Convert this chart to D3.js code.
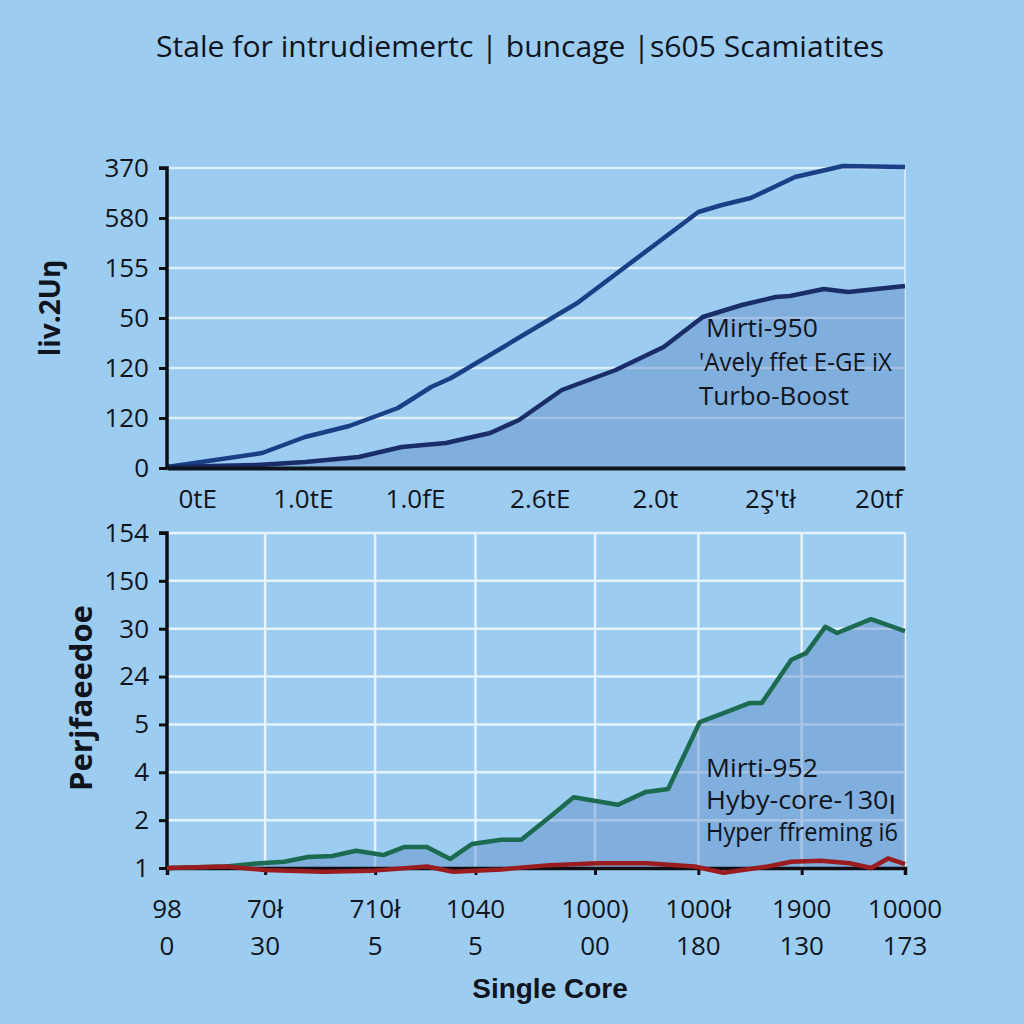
<!DOCTYPE html>
<html><head><meta charset="utf-8">
<script src="https://cdn.jsdelivr.net/npm/d3@7"></script>
<style>body{margin:0;background:#9dccf1;}svg{display:block}</style>
</head><body><svg id="c" width="1024" height="1024"></svg>
<script>
// ---------- data ----------
const titleText = "Stale for intrudiemertc | buncage |s605 Scamiatites";

// top panel
const topYLabels = ["0", "120", "120", "50", "155", "580", "370"];
const topXTickPos = [4.1, 18.4, 33.6, 50.5, 66.1, 81.7, 96.4];
const topXLabels = ["0tE", "1.0tE", "1.0fE", "2.6tE", "2.0t", "2Ş'tł", "20tf"];
const topYTitle = "liv.2Uŋ";
const upperX = [0, 12.9, 18.7, 24.7, 31.3, 35.8, 38.5, 55.6, 72.0, 75.2, 79.1, 85.1, 91.6, 100];
const upperY = [0.02, 0.3, 0.62, 0.84, 1.2, 1.62, 1.8, 3.3, 5.12, 5.26, 5.4, 5.82, 6.04, 6.02];
const lowerX = [0, 12.2, 18.7, 26.0, 31.8, 37.8, 43.8, 47.7, 53.5, 60.8, 67.3, 72.6, 77.9, 82.5, 84.4, 89.0, 92.3, 100];
const lowerY = [0.02, 0.06, 0.12, 0.22, 0.42, 0.5, 0.7, 0.96, 1.56, 1.96, 2.42, 3.02, 3.26, 3.42, 3.44, 3.58, 3.52, 3.64];
const topNote = ["Mirti-950", "'Avely ffet E-GE iX", "Turbo-Boost"];

// bottom panel
const botYLabels = ["1", "2", "4", "5", "24", "30", "150", "154"];
const botXTickPos = [0, 13.3, 28.2, 41.8, 58.0, 72.0, 86.0, 100];
const botXLabels1 = ["98", "70ł", "710ł", "1040", "1000)", "1000ł", "1900", "10000"];
const botXLabels2 = ["0", "30", "5", "5", "00", "180", "130", "173"];
const botYTitle = "Perjfaeedoe";
const botXTitle = "Single Core";
const greenX = [0, 8.0, 12.6, 15.9, 19.1, 22.4, 25.6, 29.3, 32.2, 35.2, 38.4, 41.3, 45.3, 48.0, 51.9, 55.1, 61.1, 64.9, 67.9, 72.2, 75.5, 79.0, 80.6, 84.6, 86.6, 89.2, 90.8, 95.4, 100];
const greenY = [0, 0.03, 0.10, 0.13, 0.23, 0.25, 0.36, 0.27, 0.44, 0.44, 0.19, 0.50, 0.59, 0.59, 1.07, 1.48, 1.32, 1.59, 1.65, 3.05, 3.24, 3.45, 3.45, 4.35, 4.49, 5.04, 4.91, 5.20, 4.95];
const redX = [0, 8.0, 13.2, 21.1, 27.6, 35.2, 38.8, 45.3, 51.9, 58.4, 65.0, 71.5, 75.4, 81.4, 84.6, 88.6, 92.5, 95.4, 97.7, 100];
const redY = [0, 0.03, -0.04, -0.08, -0.06, 0.03, -0.08, -0.03, 0.06, 0.10, 0.10, 0.03, -0.10, 0.03, 0.13, 0.15, 0.10, 0, 0.2, 0.08];
const botNote = ["Mirti-952", "Hyby-core-130ꞁ", "Hyper ffreming i6"];

// ---------- drawing ----------
const svg = d3.select("#c");
const FONT = "'Open Sans', 'DejaVu Sans', sans-serif";
const TXT = "#10141c";

svg.append("rect").attr("width", 1024).attr("height", 1024).attr("fill", "#9dccf1");

svg.append("text").attr("x", 520).attr("y", 57).attr("text-anchor", "middle")
  .attr("font-family", FONT).attr("font-size", 30).attr("fill", TXT)
  .attr("textLength", 728).attr("lengthAdjust", "spacingAndGlyphs")
  .text(titleText);

const left = 167, right = 905;
const zip = (xs, ys) => xs.map((x, i) => [x, ys[i]]);

// ===== top panel =====
const tx = d3.scaleLinear().domain([0, 100]).range([left, right]);
const ty = d3.scaleLinear().domain([0, 6]).range([468, 168]);
const gT = svg.append("g");

gT.selectAll("line.hg").data(d3.range(1, 7)).join("line")
  .attr("x1", left).attr("x2", right).attr("y1", d => ty(d)).attr("y2", d => ty(d))
  .attr("stroke", "#dcedfb").attr("stroke-width", 2.5);
gT.append("line").attr("x1", right).attr("x2", right).attr("y1", ty(6)).attr("y2", ty(0))
  .attr("stroke", "#cfe6f9").attr("stroke-width", 2);

const lowerPts = zip(lowerX, lowerY);
gT.append("path").datum(lowerPts)
  .attr("d", d3.area().x(d => tx(d[0])).y0(ty(0)).y1(d => ty(d[1])))
  .attr("fill", "#5886c0").attr("fill-opacity", 0.42);

gT.append("path").datum(zip(upperX, upperY))
  .attr("d", d3.line().x(d => tx(d[0])).y(d => ty(d[1])))
  .attr("fill", "none").attr("stroke", "#1b3f84").attr("stroke-width", 4.5).attr("stroke-linejoin", "round");
gT.append("path").datum(lowerPts)
  .attr("d", d3.line().x(d => tx(d[0])).y(d => ty(d[1])))
  .attr("fill", "none").attr("stroke", "#192d68").attr("stroke-width", 4.5).attr("stroke-linejoin", "round");

const yAxT = gT.append("g").attr("transform", `translate(${left},0)`)
  .call(d3.axisLeft(ty).tickValues(d3.range(0, 7)).tickFormat(i => topYLabels[i]).tickSize(8).tickPadding(10));
const xAxT = gT.append("g").attr("transform", `translate(0,${ty(0)})`)
  .call(d3.axisBottom(tx).tickValues(topXTickPos).tickFormat((d, i) => topXLabels[i]).tickSize(0).tickPadding(22));

gT.append("text").attr("transform", `translate(60,308) rotate(-90)`).attr("text-anchor", "middle")
  .attr("font-family", FONT).attr("font-weight", "bold").attr("font-size", 28).attr("fill", TXT)
  .text(topYTitle);

const topNoteLen = [112, 193, 150];
gT.selectAll("text.note").data(topNote).join("text")
  .attr("x", (d, i) => i === 0 ? 706 : 699).attr("y", (d, i) => 337 + i * 34)
  .attr("font-family", FONT).attr("font-size", 25.5).attr("fill", TXT)
  .attr("textLength", (d, i) => topNoteLen[i]).attr("lengthAdjust", "spacingAndGlyphs")
  .text(d => d);

// ===== bottom panel =====
const bx = d3.scaleLinear().domain([0, 100]).range([left, right]);
const by = d3.scaleLinear().domain([0, 7]).range([868, 533]);
const gB = svg.append("g");

gB.selectAll("line.hg").data(d3.range(1, 8)).join("line")
  .attr("x1", left).attr("x2", right).attr("y1", d => by(d)).attr("y2", d => by(d))
  .attr("stroke", "#e6f2fc").attr("stroke-width", 2.5);
gB.selectAll("line.vg").data(botXTickPos.slice(1)).join("line")
  .attr("x1", d => bx(d)).attr("x2", d => bx(d)).attr("y1", by(7)).attr("y2", by(0))
  .attr("stroke", "#e6f2fc").attr("stroke-width", 2.5);

const greenPts = zip(greenX, greenY);
gB.append("path").datum(greenPts)
  .attr("d", d3.area().x(d => bx(d[0])).y0(by(0)).y1(d => by(d[1])))
  .attr("fill", "#5886c0").attr("fill-opacity", 0.42);

const botNoteLen = [112, 190, 192];
gB.selectAll("text.note").data(botNote).join("text")
  .attr("x", 706).attr("y", (d, i) => 777 + i * 32)
  .attr("font-family", FONT).attr("font-size", 25).attr("fill", TXT)
  .attr("textLength", (d, i) => botNoteLen[i]).attr("lengthAdjust", "spacingAndGlyphs")
  .text(d => d);

const xAxB = gB.append("g").attr("transform", `translate(0,${by(0)})`)
  .call(d3.axisBottom(bx).tickValues(botXTickPos).tickFormat("").tickSize(7));
const yAxB = gB.append("g").attr("transform", `translate(${left},0)`)
  .call(d3.axisLeft(by).tickValues(d3.range(0, 8)).tickFormat(i => botYLabels[i]).tickSize(8).tickPadding(10));

gB.append("path").datum(greenPts)
  .attr("d", d3.line().x(d => bx(d[0])).y(d => by(d[1])))
  .attr("fill", "none").attr("stroke", "#1c6b50").attr("stroke-width", 4.5).attr("stroke-linejoin", "round");
gB.append("path").datum(zip(redX, redY))
  .attr("d", d3.line().x(d => bx(d[0])).y(d => by(d[1])))
  .attr("fill", "none").attr("stroke", "#9a1c1f").attr("stroke-width", 4.5).attr("stroke-linejoin", "round");

const labG = gB.append("g");
labG.selectAll("text.r1").data(botXTickPos).join("text")
  .attr("x", d => bx(d)).attr("y", 918).attr("text-anchor", "middle")
  .attr("font-family", FONT).attr("font-size", 26).attr("fill", TXT).text((d, i) => botXLabels1[i]);
labG.selectAll("text.r2").data(botXTickPos).join("text")
  .attr("x", d => bx(d)).attr("y", 955).attr("text-anchor", "middle")
  .attr("font-family", FONT).attr("font-size", 26).attr("fill", TXT).text((d, i) => botXLabels2[i]);

gB.append("text").attr("x", 550).attr("y", 998).attr("text-anchor", "middle")
  .attr("font-family", "'Liberation Sans', Arial, sans-serif").attr("font-weight", "bold").attr("font-size", 28).attr("fill", TXT)
  .text(botXTitle);

gB.append("text").attr("transform", `translate(92,698) rotate(-90)`).attr("text-anchor", "middle")
  .attr("font-family", FONT).attr("font-weight", "bold").attr("font-size", 31).attr("fill", TXT)
  .text(botYTitle);

[yAxT, xAxT, xAxB, yAxB].forEach(a => {
  a.select(".domain").attr("stroke", "#0d0d12").attr("stroke-width", 3.5);
  a.selectAll(".tick line").attr("stroke", "#0d0d12").attr("stroke-width", 3);
  a.selectAll(".tick text").attr("font-family", FONT).attr("font-size", 26).attr("fill", TXT);
});
yAxT.select(".domain").attr("d", `M-8,${ty(6)}H0V${ty(0)}`);
yAxB.select(".domain").attr("d", `M-8,${by(7)}H0V${by(0)}`);
xAxT.select(".domain").attr("stroke", "#10141f").attr("stroke-width", 4);
</script>
</body></html>
